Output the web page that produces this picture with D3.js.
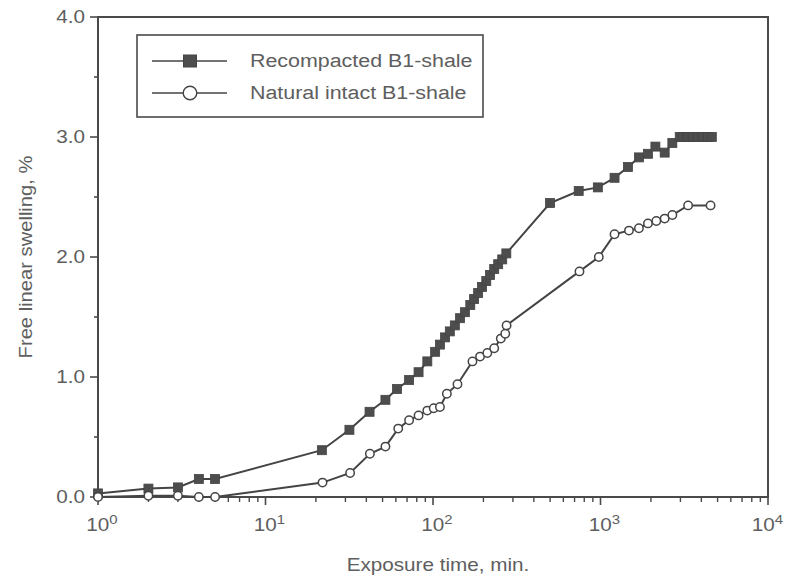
<!DOCTYPE html>
<html><head><meta charset="utf-8">
<script src="https://cdn.jsdelivr.net/npm/d3@7"></script>
<style>
body{margin:0;background:#fff;}
svg{font-family:"Liberation Sans",Arial,sans-serif;}
</style></head>
<body><svg id="c" width="785" height="578"></svg>
<script>
const recompactedX = [1,2,3,4,5,21.7,31.7,41.8,52,61,72,82,92.5,103,110,118,126,135,145,155,167,176,186,196,208,219,232,245,259,274,500,741,964,1213,1459,1696,1920,2127,2416,2685,2972,3098,3318,3556,3808,4081,4373,4619];
const recompactedY = [0.03,0.07,0.08,0.15,0.15,0.39,0.56,0.71,0.81,0.90,0.975,1.04,1.13,1.21,1.27,1.33,1.38,1.43,1.49,1.54,1.60,1.65,1.70,1.75,1.80,1.85,1.90,1.94,1.98,2.03,2.45,2.55,2.58,2.66,2.75,2.83,2.86,2.92,2.87,2.95,3.0,3.0,3.0,3.0,3.0,3.0,3.0,3.0];
const naturalX = [1,2,3,4,5,21.9,32,42,52,62,72,82,92.5,101,110,121,140,172,191,211,232,254,270,275,749,977,1213,1479,1696,1920,2154,2416,2685,3334,4540];
const naturalY = [0.0,0.01,0.01,0.0,0.0,0.12,0.20,0.36,0.42,0.57,0.64,0.68,0.72,0.74,0.75,0.86,0.94,1.13,1.17,1.20,1.24,1.32,1.36,1.43,1.88,2.0,2.19,2.22,2.24,2.28,2.30,2.32,2.35,2.43,2.43];
const seriesNames = ["Recompacted B1-shale","Natural intact B1-shale"];
const yTicks = [0,1,2,3,4];
const yMinor = [0.5,1.5,2.5,3.5];
const xDecades = [0,1,2,3,4];
const xLabel = "Exposure time, min.";
const yLabel = "Free linear swelling, %";

const svg = d3.select("#c");
const L=98, R=768, T=17, B=497;
const x = d3.scaleLog().domain([1,10000]).range([L,R]);
const y = d3.scaleLinear().domain([0,4]).range([B,T]);
const axisCol="#4a4a4a", textCol="#5e5e5e", lineCol="#444";
const SX=1.15;

function label(g, tx, ty, txt, anchor, size, sx, rot){
  const t = g.append("text")
    .attr("transform",`translate(${tx},${ty})${rot?` rotate(${rot})`:""} scale(${sx},1)`)
    .attr("text-anchor",anchor).attr("font-size",size).attr("fill",textCol);
  return t;
}

// frame
svg.append("rect").attr("x",L).attr("y",T).attr("width",R-L).attr("height",B-T)
  .attr("fill","none").attr("stroke",axisCol).attr("stroke-width",2);

// y ticks
const gy = svg.append("g");
yTicks.forEach(v=>{
  gy.append("line").attr("x1",L-8).attr("x2",L).attr("y1",y(v)).attr("y2",y(v)).attr("stroke",axisCol).attr("stroke-width",1.6);
  label(gy, L-13, y(v), null, "end", 18, SX).attr("dy","0.35em").text(v.toFixed(1));
});
yMinor.forEach(v=>{
  gy.append("line").attr("x1",L-4).attr("x2",L).attr("y1",y(v)).attr("y2",y(v)).attr("stroke",axisCol).attr("stroke-width",1.6);
});
// x ticks
const gx = svg.append("g");
xDecades.forEach(d=>{
  const v=Math.pow(10,d);
  gx.append("line").attr("x1",x(v)).attr("x2",x(v)).attr("y1",B).attr("y2",B+8).attr("stroke",axisCol).attr("stroke-width",1.6);
  const last = d===xDecades[xDecades.length-1];
  const t=label(gx, last ? 783 : x(v)+4, B+34, null, last ? "end" : "middle", 18, SX);
  t.append("tspan").text("10");
  t.append("tspan").attr("dy",-7).attr("font-size",13).text(d);
  if(!last){
    for(let k=2;k<=9;k++){
      const m=k*v;
      gx.append("line").attr("x1",x(m)).attr("x2",x(m)).attr("y1",B).attr("y2",B+5).attr("stroke",axisCol).attr("stroke-width",1.4);
    }
  }
});
// axis labels
label(svg, 438, 571, null, "middle", 18, SX).text(xLabel);
label(svg, 32, 257, null, "middle", 18, 1.12, -90).text(yLabel);

const line = d3.line().x(d=>x(d[0])).y(d=>y(d[1]));
const rec = recompactedX.map((v,i)=>[v,recompactedY[i]]);
const nat = naturalX.map((v,i)=>[v,naturalY[i]]);

svg.append("path").datum(nat).attr("d",line).attr("fill","none").attr("stroke",lineCol).attr("stroke-width",2);
svg.append("path").datum(rec).attr("d",line).attr("fill","none").attr("stroke",lineCol).attr("stroke-width",2);

const S=9;
svg.append("g").selectAll("rect").data(rec).join("rect")
  .attr("x",d=>x(d[0])-S/2).attr("y",d=>y(d[1])-S/2).attr("width",S).attr("height",S)
  .attr("fill","#4d4d4d").attr("stroke","#444").attr("stroke-width",0.8);
svg.append("g").selectAll("circle").data(nat).join("circle")
  .attr("cx",d=>x(d[0])).attr("cy",d=>y(d[1])).attr("r",4.2)
  .attr("fill","#fff").attr("stroke",lineCol).attr("stroke-width",1.5);

// legend
const lg = svg.append("g");
lg.append("rect").attr("x",137).attr("y",35).attr("width",346).attr("height",82).attr("fill","#fff").attr("stroke",axisCol).attr("stroke-width",1.6);
const rows=[61,93];
rows.forEach((ry,i)=>{
  lg.append("line").attr("x1",152).attr("x2",227).attr("y1",ry).attr("y2",ry).attr("stroke",lineCol).attr("stroke-width",1.6);
  if(i===0){
    lg.append("rect").attr("x",190-6.5).attr("y",ry-6).attr("width",13).attr("height",12).attr("fill","#4d4d4d").attr("stroke","#444");
  } else {
    lg.append("circle").attr("cx",190).attr("cy",ry).attr("r",6.8).attr("fill","#fff").attr("stroke",lineCol).attr("stroke-width",1.4);
  }
  label(lg, 250, ry, null, "start", 18, 1.19).attr("dy","0.35em").text(seriesNames[i]);
});
</script></body></html>
